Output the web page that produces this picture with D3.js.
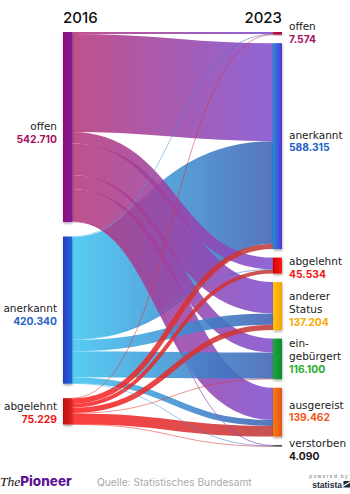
<!DOCTYPE html>
<html>
<head>
<meta charset="utf-8">
<script src="https://cdn.jsdelivr.net/npm/d3@7"></script>
<style>
  html, body { margin: 0; padding: 0; background: #fff; }
  svg { display: block; font-family: "Inter", "Open Sans", sans-serif; }
  .name { font-family: "DejaVu Sans", sans-serif; font-size: 10.5px; fill: #222; }
  .val { font-family: "Inter", sans-serif; font-size: 10.3px; font-weight: 700; }
</style>
</head>
<body>
<svg id="chart" width="350" height="494"></svg>
<script>
// ---------- DATA ----------
const years = ["2016", "2023"];
const leftNames = ["offen", "anerkannt", "abgelehnt"];
const leftValues = [542710, 420340, 75229];
const rightNames = ["offen", "anerkannt", "abgelehnt", "anderer Status", "eingebürgert", "ausgereist", "verstorben"];
const rightLabelLines = [["offen"], ["anerkannt"], ["abgelehnt"], ["anderer", "Status"], ["ein-", "gebürgert"], ["ausgereist"], ["verstorben"]];
const rightValues = [7574, 588315, 45534, 137204, 116100, 139462, 4090];
// flows from each 2016 status into the 2023 statuses (order of rightNames)
const flowsFromOffen = [5500, 280000, 33000, 90000, 40000, 92000, 2210];
const flowsFromAnerkannt = [1200, 292840, 1500, 32000, 74600, 17000, 1200];
const flowsFromAbgelehnt = [874, 15475, 11034, 15204, 1500, 30462, 680];
const sourceText = "Quelle: Statistisches Bundesamt";

// ---------- STYLE ----------
const leftNodeColors = [["#950c6e", "#7a1ca3"], ["#2a3cc0", "#2266d8"], ["#b80f0f", "#e52121"]];
const rightNodeColors = [["#c4123e", "#a8104a"], ["#1b8fe0", "#5a31d2"], ["#d90000", "#ff1a1a"], ["#ffc21a", "#f9a300"], ["#20a83a", "#0d8a33"], ["#f57d0a", "#e9521a"], ["#555", "#3a3a3a"]];
const linkColors = [["#b6377a", "#7f4fd0"], ["#3ec6f2", "#3d5fb2"], ["#ff2222", "#bf3a3a"]];
const valueColors = { "offen": "#a3135f", "anerkannt": "#2462c6", "abgelehnt": "#f01616", "anderer Status": "#f7a900", "eingebürgert": "#1fad2b", "ausgereist": "#f2561a", "verstorben": "#1a1a1a" };
const rightLabelNudge = [-1, -5, 2, 3, -3, -1, 4];
const leftLabelNudge = [2, 1, -2];

const flows = [flowsFromOffen, flowsFromAnerkannt, flowsFromAbgelehnt];
const fmt = d3.formatLocale({ decimal: ",", thousands: ".", grouping: [3], currency: ["", ""] }).format(",d");

const svg = d3.select("#chart");
const yTop = 32, yBottom = 446.5;
const leftPad = 14.5, rightPad = 8.5;
const xL0 = 63, xL1 = 72, xR0 = 273, xR1 = 282;
const total = d3.sum(rightValues);
const h = d3.scaleLinear().domain([0, total]).range([0, (yBottom - yTop) - rightPad * (rightValues.length - 1)]);

function layout(values, pad) {
  let y = yTop;
  return values.map(v => { const n = { y0: y, y1: y + h(v) }; y = n.y1 + pad; return n; });
}
const leftNodes = layout(leftValues, leftPad);
const rightNodes = layout(rightValues, rightPad);

const links = [];
const srcOff = leftNodes.map(n => n.y0);
const tgtOff = rightNodes.map(n => n.y0);
flows.forEach((row, s) => row.forEach((v, t) => {
  links.push({ s, t, v, w: h(v), ys: srcOff[s] + h(v) / 2 });
  srcOff[s] += h(v);
}));
for (let t = 0; t < rightValues.length; t++) {
  for (let s = 0; s < flows.length; s++) {
    const l = links.find(d => d.s === s && d.t === t);
    l.yt = tgtOff[t] + l.w / 2;
    tgtOff[t] += l.w;
  }
}

const defs = svg.append("defs");
linkColors.forEach((c, i) => {
  const g = defs.append("linearGradient").attr("id", "lg" + i).attr("gradientUnits", "userSpaceOnUse")
    .attr("x1", xL1).attr("x2", xR0).attr("y1", 0).attr("y2", 0);
  g.append("stop").attr("offset", "0%").attr("stop-color", c[0]);
  g.append("stop").attr("offset", "100%").attr("stop-color", c[1]);
});
function nodeGrad(id, c) {
  const g = defs.append("linearGradient").attr("id", id).attr("x1", "0%").attr("x2", "100%");
  g.append("stop").attr("offset", "0%").attr("stop-color", c[0]);
  g.append("stop").attr("offset", "100%").attr("stop-color", c[1]);
}
leftNodeColors.forEach((c, i) => nodeGrad("nl" + i, c));
rightNodeColors.forEach((c, i) => nodeGrad("nr" + i, c));
const f = defs.append("filter").attr("id", "shadow").attr("x", "-50%").attr("y", "-20%").attr("width", "200%").attr("height", "140%");
f.append("feDropShadow").attr("dx", 0.5).attr("dy", 1.5).attr("stdDeviation", 1).attr("flood-color", "#000").attr("flood-opacity", 0.35);

const linkGen = d3.linkHorizontal().x(d => d[0]).y(d => d[1]);
svg.append("g").selectAll("path")
  .data(links.filter(d => d.v > 0).sort((a, b) => b.v - a.v))
  .join("path")
  .attr("d", d => linkGen({ source: [xL1, d.ys], target: [xR0, d.yt] }))
  .attr("fill", "none")
  .attr("stroke", d => `url(#lg${d.s})`)
  .attr("stroke-width", d => Math.max(0.6, d.w))
  .attr("stroke-opacity", 0.87);

svg.append("g").selectAll("rect").data(leftNodes).join("rect")
  .attr("x", xL0).attr("width", xL1 - xL0)
  .attr("y", d => d.y0).attr("height", d => Math.max(1, d.y1 - d.y0))
  .attr("fill", (d, i) => `url(#nl${i})`).attr("filter", "url(#shadow)");
svg.append("g").selectAll("rect").data(rightNodes).join("rect")
  .attr("x", xR0).attr("width", xR1 - xR0)
  .attr("y", d => d.y0).attr("height", d => Math.max(1.5, d.y1 - d.y0))
  .attr("fill", (d, i) => `url(#nr${i})`).attr("filter", "url(#shadow)");

svg.append("text").attr("x", xL0).attr("y", 23).attr("font-size", 15).attr("font-weight", 500).attr("fill", "#111").text(years[0]);
svg.append("text").attr("x", xR1).attr("y", 23).attr("text-anchor", "end").attr("font-size", 15).attr("font-weight", 500).attr("fill", "#111").text(years[1]);

const lh = 12.6;
leftNodes.forEach((n, i) => {
  const c = (n.y0 + n.y1) / 2 + leftLabelNudge[i];
  svg.append("text").attr("class", "name").attr("x", 57).attr("y", c + 1).attr("text-anchor", "end").text(leftNames[i]);
  svg.append("text").attr("class", "val").attr("x", 57).attr("y", c + 1 + lh).attr("text-anchor", "end")
    .attr("fill", valueColors[leftNames[i]]).text(fmt(leftValues[i]));
});
rightNodes.forEach((n, i) => {
  const lines = rightLabelLines[i];
  const c = (n.y0 + n.y1) / 2 + rightLabelNudge[i];
  let y = c - (lines.length) * lh / 2 + 4;
  lines.forEach(t => {
    svg.append("text").attr("class", "name").attr("x", 289).attr("y", y).text(t);
    y += lh;
  });
  svg.append("text").attr("class", "val").attr("x", 289).attr("y", y)
    .attr("fill", valueColors[rightNames[i]]).text(fmt(rightValues[i]));
});

const logo = svg.append("text").attr("x", 0).attr("y", 486).attr("font-size", 13.5);
logo.append("tspan").attr("font-family", "'Liberation Serif', serif").attr("font-style", "italic").attr("fill", "#111").text("The");
logo.append("tspan").attr("font-family", "Inter, sans-serif").attr("font-weight", 800).attr("fill", "#5c1496").text("Pioneer");
svg.append("text").attr("x", 97).attr("y", 486).attr("font-size", 10.2).attr("fill", "#aaa").text(sourceText);
svg.append("text").attr("x", 349).attr("y", 477.5).attr("text-anchor", "end").attr("font-size", 4.8).attr("letter-spacing", 1.3).attr("fill", "#777").text("powered by");
svg.append("text").attr("x", 342).attr("y", 488).attr("text-anchor", "end").attr("font-size", 8.5).attr("font-weight", 700).attr("fill", "#1c2a3a").attr("font-family", "'Liberation Sans Narrow', 'Liberation Sans', sans-serif").text("statista");
svg.append("rect").attr("x", 343.5).attr("y", 481).attr("width", 6.5).attr("height", 6.5).attr("fill", "#1c2a3a");
svg.append("path").attr("d", "M343.5,486 L350,482").attr("stroke", "#fff").attr("stroke-width", 1.2);
</script>
</body>
</html>
